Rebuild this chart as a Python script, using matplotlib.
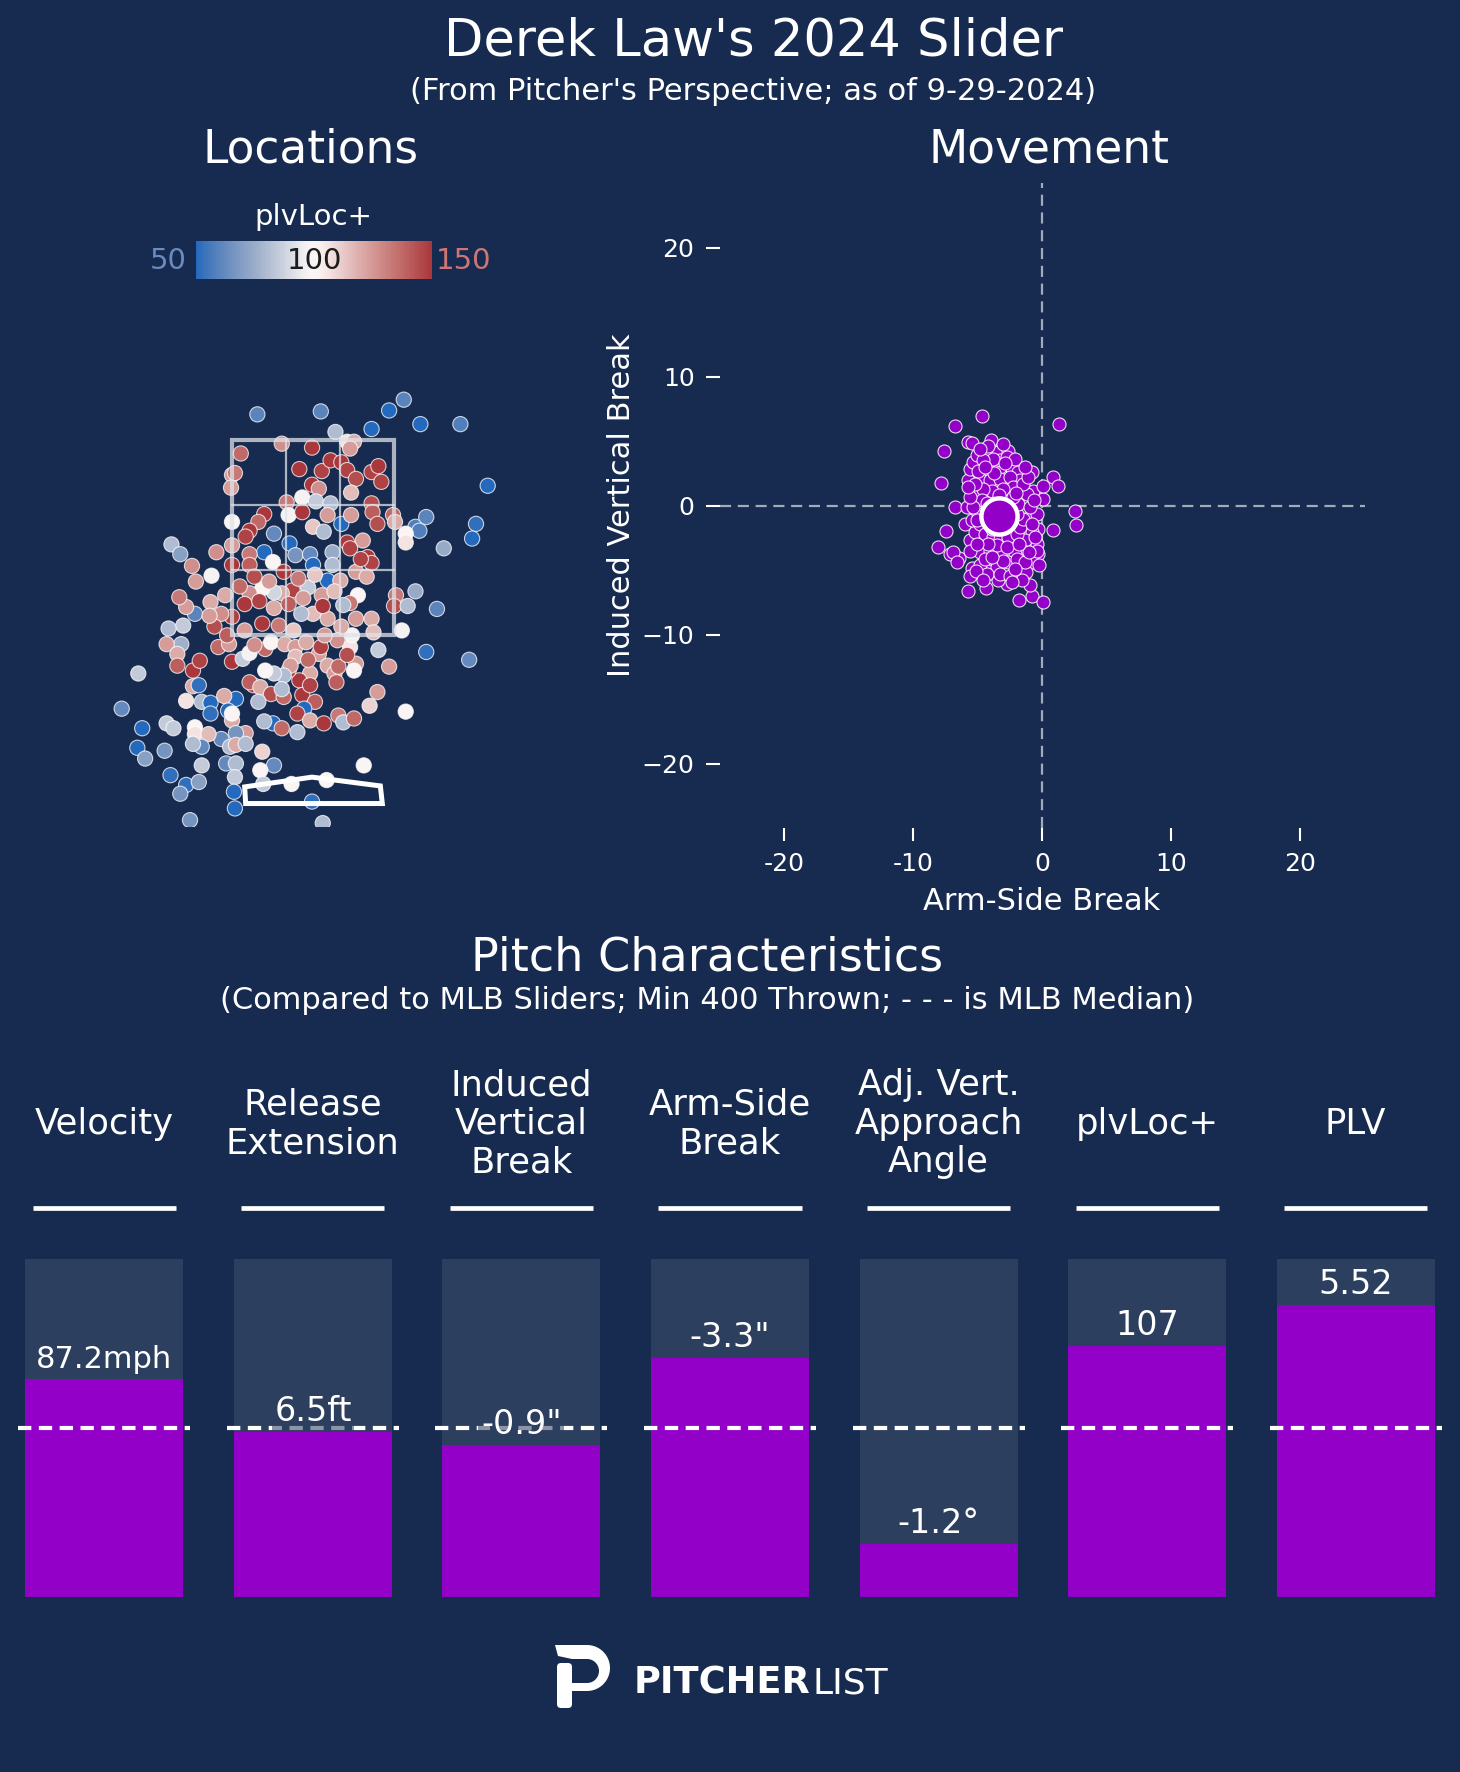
import numpy as np
import matplotlib.pyplot as plt
import seaborn as sns
from matplotlib.patches import Rectangle, Polygon, FancyBboxPatch
from matplotlib.cm import ScalarMappable
from matplotlib.colors import Normalize

# Pitch locations from the pitcher's view: (plate_x ft, plate_z ft, plvLoc+)
loc_pitches = [
    (-0.57, 3.76, 60), (0.08, 3.79, 60), (0.78, 3.80, 50), (0.93, 3.91, 60), (0.60, 3.61, 50),
    (1.10, 3.66, 50), (1.51, 3.66, 58), (1.79, 3.03, 50), (0.23, 3.58, 80), (0.35, 3.48, 106),
    (0.42, 3.48, 120), (0.38, 3.41, 124), (-0.32, 3.46, 127), (-0.01, 3.42, 150), (-0.74, 3.36, 137),
    (-0.14, 3.20, 150), (0.09, 3.18, 147), (0.18, 3.29, 150), (0.29, 3.27, 150), (0.35, 3.19, 147),
    (0.44, 3.10, 144), (0.60, 3.17, 147), (0.67, 3.23, 150), (0.70, 3.07, 147), (-0.01, 3.04, 150),
    (0.06, 3.00, 127), (0.39, 2.96, 116), (-0.83, 3.14, 124), (-0.80, 3.16, 133), (-0.84, 3.01, 124),
    (-0.27, 2.86, 133), (-0.11, 2.91, 97), (0.03, 2.87, 85), (0.18, 2.85, 80), (0.60, 2.85, 144),
    (0.61, 2.76, 140), (0.82, 2.73, 137), (0.84, 2.66, 120), (0.66, 2.64, 144), (-0.50, 2.74, 150),
    (-0.56, 2.66, 137), (-0.83, 2.66, 100), (-0.65, 2.57, 150), (-0.69, 2.51, 147), (-0.40, 2.54, 62),
    (-0.25, 2.73, 97), (-0.11, 2.76, 150), (0.00, 2.61, 113), (0.15, 2.73, 124), (0.29, 2.64, 50),
    (0.39, 2.73, 124), (0.51, 2.47, 124), (0.11, 2.56, 80), (0.35, 2.45, 150), (0.38, 2.39, 147),
    (0.56, 2.30, 150), (0.60, 2.24, 147), (1.05, 2.61, 58), (1.09, 2.57, 58), (1.16, 2.71, 60),
    (1.67, 2.64, 52), (1.63, 2.49, 50), (0.95, 2.54, 100), (0.95, 2.45, 106), (1.34, 2.39, 74),
    (-0.50, 2.35, 50), (-0.24, 2.44, 50), (-0.65, 2.33, 133), (-0.83, 2.42, 124), (-0.99, 2.35, 127),
    (-1.45, 2.43, 80), (-1.36, 2.33, 70), (-1.24, 2.21, 127), (-1.20, 2.05, 124), (-1.04, 2.11, 97),
    (-0.83, 2.22, 150), (-0.65, 2.22, 140), (-0.41, 2.25, 100), (-0.18, 2.32, 66), (-0.03, 2.33, 62),
    (0.00, 2.22, 50), (0.20, 2.35, 74), (0.20, 2.22, 80), (0.15, 2.06, 50), (0.28, 2.06, 120),
    (0.44, 2.15, 124), (0.55, 2.10, 120), (0.49, 2.28, 147), (1.05, 1.95, 74), (1.27, 1.77, 60),
    (0.85, 1.91, 133), (0.83, 1.80, 144), (0.97, 1.80, 80), (0.46, 1.91, 100), (0.91, 1.55, 97),
    (0.38, 1.83, 133), (0.31, 1.81, 80), (0.44, 1.67, 124), (0.60, 1.67, 120), (0.62, 1.53, 116),
    (0.67, 1.35, 85), (0.78, 1.18, 124), (1.16, 1.33, 52), (1.60, 1.25, 62), (0.44, 1.21, 124),
    (0.42, 1.14, 100), (0.38, 1.38, 106), (0.40, 1.50, 97), (0.29, 1.59, 120), (0.15, 1.67, 120),
    (0.00, 1.72, 116), (-0.12, 1.72, 80), (-0.05, 1.99, 85), (0.09, 1.91, 124), (-0.21, 1.96, 147),
    (-0.32, 1.93, 120), (-0.40, 1.94, 88), (-0.52, 1.98, 100), (-0.65, 1.93, 127), (-0.70, 1.82, 150),
    (-0.83, 1.69, 147), (-0.90, 1.91, 120), (-1.05, 1.84, 120), (-1.21, 1.72, 60), (-1.30, 1.79, 124),
    (-1.37, 1.89, 133), (-1.33, 1.60, 85), (-1.48, 1.57, 80), (-1.35, 1.41, 76), (-1.50, 1.41, 124),
    (-1.39, 1.31, 120), (-1.39, 1.19, 140), (-1.23, 1.14, 150), (-1.16, 1.24, 147), (-1.79, 1.11, 85),
    (-1.23, 0.98, 120), (-1.17, 0.99, 52), (-1.30, 0.83, 106), (-1.14, 0.82, 80), (-1.05, 0.81, 50),
    (-0.79, 0.85, 50), (-0.91, 0.88, 120), (-1.05, 0.70, 52), (-0.87, 0.73, 50), (-0.83, 0.63, 120),
    (-0.83, 0.70, 100), (-0.94, 1.72, 127), (-1.01, 1.59, 144), (-1.06, 1.70, 124), (-0.97, 1.38, 137),
    (-0.86, 1.41, 124), (-0.83, 1.23, 150), (-0.72, 1.26, 85), (-0.65, 1.32, 97), (-0.49, 1.36, 137),
    (-0.43, 1.43, 100), (-0.29, 1.41, 120), (-0.18, 1.38, 124), (-0.18, 1.28, 116), (-0.07, 1.43, 120),
    (0.06, 1.31, 124), (0.08, 1.38, 147), (0.15, 1.19, 120), (0.22, 1.11, 124), (0.26, 1.18, 137),
    (0.24, 1.02, 140), (-0.03, 1.11, 120), (-0.14, 1.04, 150), (-0.25, 1.14, 147), (-0.23, 1.19, 124),
    (-0.30, 1.09, 80), (-0.40, 1.11, 85), (-0.49, 1.14, 100), (-0.61, 0.99, 150), (-0.65, 1.02, 140),
    (-0.54, 0.97, 120), (-0.43, 0.90, 144), (-0.30, 0.87, 137), (-0.32, 0.95, 80), (-0.11, 0.89, 150),
    (-0.03, 0.99, 147), (0.02, 0.82, 140), (-0.09, 0.75, 50), (-0.16, 0.70, 147), (-0.03, 0.63, 120),
    (0.11, 0.60, 150), (0.26, 0.68, 133), (0.31, 0.61, 80), (0.42, 0.65, 137), (0.66, 0.92, 124),
    (0.58, 0.78, 110), (0.95, 0.72, 100), (-0.56, 0.82, 80), (-0.41, 0.60, 50), (-0.50, 0.62, 80),
    (-0.32, 0.55, 137), (-0.16, 0.51, 80), (-0.69, 0.50, 124), (-0.79, 0.50, 66), (-0.94, 0.44, 62),
    (-0.85, 0.36, 80), (-0.79, 0.38, 120), (-0.69, 0.39, 80), (-0.52, 0.31, 110), (-0.40, 0.17, 62),
    (-0.54, 0.12, 100), (-1.21, 0.56, 100), (-1.21, 0.49, 106), (-1.07, 0.49, 116), (-1.50, 0.60, 85),
    (-1.43, 0.55, 85), (-1.14, 0.36, 62), (-1.23, 0.39, 80), (-1.52, 0.32, 66), (-1.75, 0.55, 50),
    (-1.96, 0.75, 62), (-1.80, 0.35, 50), (-1.72, 0.24, 70), (-1.46, 0.07, 52), (-1.30, -0.03, 52),
    (-1.17, 0.00, 70), (-1.36, -0.12, 66), (-1.14, 0.17, 85), (-0.89, 0.19, 62), (-0.79, 0.19, 80),
    (-0.80, 0.05, 85), (-0.81, -0.10, 50), (-0.80, -0.27, 50), (-1.26, -0.39, 66), (-0.01, -0.20, 52),
    (0.10, -0.42, 80), (-0.22, -0.02, 100), (0.14, 0.02, 100), (-0.51, -0.02, 85), (0.52, 0.17, 100),
    (-0.60, 2.10, 144), (-0.45, 2.05, 124), (-0.30, 2.15, 150), (-0.15, 2.08, 133), (0.02, 2.12, 113),
    (-0.75, 2.00, 137), (-0.55, 1.85, 147), (-0.40, 1.78, 120), (-0.25, 1.82, 140), (-0.10, 1.88, 124),
    (0.10, 1.80, 150), (0.22, 1.95, 116), (-0.88, 1.50, 140), (-0.70, 1.55, 124), (-0.52, 1.62, 150),
    (-0.35, 1.60, 133), (-0.20, 1.55, 113), (0.25, 1.45, 127), (0.35, 1.30, 144), (-0.60, 1.40, 127),
    (-0.05, 1.25, 137), (0.12, 1.50, 124),
]

# Movement: (arm-side break in, induced vertical break in)
mov_pitches = [
    (-4.67, 6.9), (-6.74, 6.2), (1.33, 6.33), (-7.6, 4.2), (-7.8, 1.76), (-6.74, -0.08),
    (-7.43, -1.94), (-8.03, -3.23), (-7.12, -3.75), (-6.4, -4.1), (-5.7, -6.6), (-4.33, -6.4),
    (-1.75, -7.3), (-0.79, -7.05), (0.11, -7.5), (2.57, -0.44), (2.62, -1.5), (0.89, 2.2),
    (1.27, 1.55), (0.83, -1.9), (0.11, 0.52), (-5.44, -4.86), (-5.57, -5.43), (-6.9, -3.6),
    (-6.6, -4.4), (-5.7, 4.9), (-5.44, 4.83), (-3.97, 5.09), (-0.79, 2.58), (-0.66, 1.16),
    (0.06, 1.55), (-0.41, -2.97), (-0.28, -3.75), (-0.66, -4.39), (-1.23, -5.17), (-0.92, -6.2),
    (-1.57, -5.81), (-2.68, -6.07), (-3.38, -5.81), (-4.15, -5.04), (-4.8, -3.62), (-5.57, -2.71),
    (-5.96, -1.42), (-5.83, -0.13), (-5.7, 1.94), (-5.57, 2.84), (-5.32, 3.36), (-5.06, 3.88),
    (-4.28, 4.26), (-3.38, 4.14), (-2.6, 4.26), (-2.47, 3.1), (-1.83, 2.58), (-1.7, 1.94),
    (-1.57, 0.9), (-0.92, -0.9), (-0.41, -0.65), (-0.28, -1.81), (-0.79, -2.07), (-1.31, -2.71),
    (-1.44, -3.49), (-2.21, -2.71), (-2.09, -3.75), (-2.6, -4.39), (-3.25, -3.75), (-4.02, -3.49),
    (-3.51, -4.78), (-4.8, -4.65), (-4.41, -4.13), (-5.57, -3.49), (-5.19, -2.07), (-5.44, -1.16),
    (-5.06, 0.9), (-4.67, 2.2), (-4.02, 2.71), (-3.25, 2.97), (-3.25, 3.49), (-3.77, 3.62),
    (-4.54, 3.49), (-4.93, 2.71), (-4.02, 1.94), (-3.25, 2.07), (-2.47, 2.2), (-2.21, 1.42),
    (-2.99, 1.29), (-3.89, 1.16), (-4.54, 1.29), (-4.67, 0.39), (-4.93, -0.65), (-4.8, -1.42),
    (-4.41, -2.2), (-3.77, -2.45), (-3.25, -2.58), (-2.6, -2.45), (-1.96, -2.2), (-1.7, -1.68),
    (-1.44, -1.03), (-1.96, -0.65), (-1.83, 0.13), (-2.21, 0.65), (-3.51, -3.1), (-2.73, -3.23),
    (-4.15, -2.97), (-5.06, -2.97), (-1.96, -4.13), (-1.31, -4.39), (-4.28, -5.3), (-3.25, -5.3),
    (-2.47, -5.43), (-2.09, -4.91), (-5.11, -5.04), (-0.41, -3.49), (-0.54, -2.45), (-0.79, -1.42),
    (-0.92, -0.13), (-1.18, 0.9), (-1.44, 1.68), (-1.05, 2.2), (-5.06, -1.16), (-5.32, -0.13),
    (-5.57, 0.65), (-5.19, 1.68), (-5.7, 1.42), (-2.73, 3.75), (-2.09, 3.62), (-4.15, 4.65),
    (-4.8, 4.39), (-2.99, 4.78), (-3.6, 0.3), (-2.7, -0.4), (-4.1, -0.9), (-3.0, -1.6),
    (-2.4, -1.2), (-3.9, -1.8), (-2.0, 1.0), (-3.3, 0.8), (-4.3, 0.2),
    (-3.7, 2.5), (-2.9, 3.3), (-4.4, 3.0), (-1.3, 3.0), (-1.0, -3.6), (-1.8, -3.0),
    (-3.0, -4.3), (-3.9, -4.0), (-2.3, -5.9), (-4.6, -5.8), (-0.2, -4.6), (-0.6, 0.4),
]
mov_mean = (-3.3, -0.8)

# Pitch characteristics (bar fill = share of the 0-1 scale; 0.5 = MLB median)
char_names = ['Velocity', 'Release\nExtension', 'Induced\nVertical\nBreak', 'Arm-Side\nBreak',
              'Adj. Vert.\nApproach\nAngle', 'plvLoc+', 'PLV']
char_labels = ['87.2mph', '6.5ft', '-0.9"', '-3.3"', '-1.2°', '107', '5.52']
char_fill = [0.645, 0.488, 0.450, 0.707, 0.157, 0.743, 0.864]

BG = '#172a4f'
BAR_BG = '#2d3f5f'
PURPLE = '#9300c8'
W, H = 1460, 1772

plt.rcParams['font.family'] = ['DejaVu Sans']


def box(left, top, right, bottom):
    # pixel box -> figure fraction rect
    return [left / W, 1 - bottom / H, (right - left) / W, (bottom - top) / H]


def fx(px):
    return px / W


def fy(py):
    return 1 - py / H


fig = plt.figure(figsize=(W / 100, H / 100), dpi=100, facecolor=BG)

# titles
fig.text(fx(754), fy(41), "Derek Law's 2024 Slider", ha='center', va='center', color='white', size=36.8)
fig.text(fx(753), fy(91), "(From Pitcher's Perspective; as of 9-29-2024)", ha='center', va='center',
         color='white', size=22)
fig.text(fx(311), fy(150), 'Locations', ha='center', va='center', color='white', size=32.8)
fig.text(fx(1049), fy(150), 'Movement', ha='center', va='center', color='white', size=32.8)
fig.text(fx(707), fy(958), 'Pitch Characteristics', ha='center', va='center', color='white', size=33.2)
fig.text(fx(707), fy(1000), '(Compared to MLB Sliders; Min 400 Thrown; - - - is MLB Median)',
         ha='center', va='center', color='white', size=22)

# ---- locations
cmap = sns.color_palette('vlag', as_cmap=True)
lx = [p[0] for p in loc_pitches]
lz = [p[1] for p in loc_pitches]
lv = [p[2] for p in loc_pitches]

ax1 = fig.add_axes(box(69, 342, 557, 827))
ax1.set_facecolor(BG)
ax1.scatter(lx, lz, c=lv, cmap=cmap, vmin=50, vmax=150, s=120, edgecolor=(1, 1, 1, 0.75),
            linewidth=0.8, zorder=2)
zone_col = '#dfe3ea'
ax1.add_patch(Rectangle((-0.83, 1.5), 1.66, 2.0, fill=False, ec=zone_col, lw=3, alpha=0.75, zorder=3))
for xv in (-0.83 + 1.66 / 3, -0.83 + 2 * 1.66 / 3):
    ax1.plot([xv, xv], [1.5, 3.5], color=zone_col, lw=1.6, alpha=0.75, zorder=3)
for zv in (1.5 + 2 / 3, 1.5 + 4 / 3):
    ax1.plot([-0.83, 0.83], [zv, zv], color=zone_col, lw=1.6, alpha=0.75, zorder=3)
plate = [(-0.69, -0.22), (-0.70, -0.05), (-0.01, 0.05), (0.69, -0.04), (0.71, -0.22)]
ax1.add_patch(Polygon(plate, closed=True, fill=False, ec='white', lw=3.6, joinstyle='miter', zorder=4))
ax1.set_xlim(-2.5, 2.5)
ax1.set_ylim(-0.46, 4.5)
ax1.axis('off')

# colorbar
cax = fig.add_axes(box(196, 241, 432, 279))
cb = fig.colorbar(ScalarMappable(norm=Normalize(50, 150), cmap=cmap), cax=cax, orientation='horizontal')
cb.outline.set_visible(False)
cax.set_xticks([])
fig.text(fx(313), fy(217), 'plvLoc+', ha='center', va='center', color='white', size=21)
fig.text(fx(187), fy(261), '50', ha='right', va='center', color='#6a8bbf', size=21)
fig.text(fx(436), fy(261), '150', ha='left', va='center', color='#cd7676', size=21)
fig.text(fx(314), fy(261), '100', ha='center', va='center', color='#1c1c1c', size=21)

# ---- movement
mx = [p[0] for p in mov_pitches]
my = [p[1] for p in mov_pitches]
ax2 = fig.add_axes(box(719.5, 183, 1364.5, 828))
ax2.set_facecolor(BG)
ax2.axhline(0, color='#a3abbb', lw=1.6, ls=(0, (5, 3)), zorder=1)
ax2.axvline(0, color='#a3abbb', lw=1.6, ls=(0, (5, 3)), zorder=1)
ax2.scatter(mx, my, color=PURPLE, s=88, edgecolor=(1, 1, 1, 0.85), linewidth=0.8, zorder=2)
ax2.scatter([mov_mean[0]], [mov_mean[1]], color=PURPLE, s=680, edgecolor='white', linewidth=3.2, zorder=3)
ax2.set_xlim(-25, 25)
ax2.set_ylim(-25, 25)
for s in ax2.spines.values():
    s.set_visible(False)
ax2.set_xticks([-20, -10, 0, 10, 20])
ax2.set_xticklabels(['-20', '-10', '0', '10', '20'])
ax2.set_yticks([-20, -10, 0, 10, 20])
ax2.tick_params(axis='x', colors='white', labelsize=18, length=9, width=1.5, pad=8)
ax2.tick_params(axis='y', colors='white', labelsize=18, length=10, width=1.5, pad=8)
fig.text(fx(1042), fy(901), 'Arm-Side Break', ha='center', va='center', color='white', size=22)
fig.text(fx(621), fy(505), 'Induced Vertical Break', ha='center', va='center', color='white',
         size=22, rotation=90)

# ---- pitch characteristic bars
ax3 = fig.add_axes(box(0, 1040, 1460, 1620))
ax3.set_facecolor(BG)
ax3.set_xlim(-0.5, 6.5)
ax3.set_ylim((1597 - 1620) / 338, (1597 - 1040) / 338)
ax3.axis('off')
idx = np.arange(len(char_names))
ax3.bar(idx, [1] * len(idx), width=0.758, align='center', color=BAR_BG, zorder=1)
ax3.bar(idx, char_fill, width=0.758, align='center', color=PURPLE, zorder=2)
for i in idx:
    ax3.plot([i - 0.4125, i + 0.4125], [0.5, 0.5], color='white', lw=3, ls=(0, (3.2, 1.8)), zorder=3)
    ax3.plot([i - 0.343, i + 0.343], [1.151, 1.151], color='white', lw=3.4, solid_capstyle='butt')
    ax3.text(i, 1.40, char_names[i], ha='center', va='center', color='white', size=25.5,
             linespacing=1.17)
    ax3.text(i, char_fill[i] + 0.033, char_labels[i], ha='center', va='baseline', color='white',
             size=22 if i == 0 else 24, zorder=4,
             bbox=dict(boxstyle='square,pad=0.08', fc=BAR_BG, ec='none', alpha=0.55))

# ---- logo
ax4 = fig.add_axes(box(540, 1630, 920, 1720))
ax4.set_xlim(540, 920)
ax4.set_ylim(1720, 1630)
ax4.axis('off')
theta = np.linspace(-np.pi / 2, np.pi / 2, 30)
outer = [(555, 1645), (587, 1645)] + [(587 + 23 * np.cos(t), 1668 - 23 * np.sin(t)) for t in theta[::-1]]
outer += [(572, 1691), (572, 1683)]
outer += [(587 + 12 * np.cos(t), 1671 - 12 * np.sin(t)) for t in theta]
outer += [(572, 1659), (558, 1656)]
ax4.add_patch(Polygon(outer, closed=True, fc='white', ec='none'))
ax4.add_patch(FancyBboxPatch((557, 1663), 15, 45, boxstyle='round,pad=0,rounding_size=4',
                             fc='white', ec='none'))
ax4.text(634, 1693, 'PITCHER', ha='left', va='baseline', color='white', size=26.5, weight='bold')
ax4.text(812, 1693, 'LIST', ha='left', va='baseline', color='white', size=26, weight='normal')

fig.savefig('out.png', dpi=100, facecolor=BG)
